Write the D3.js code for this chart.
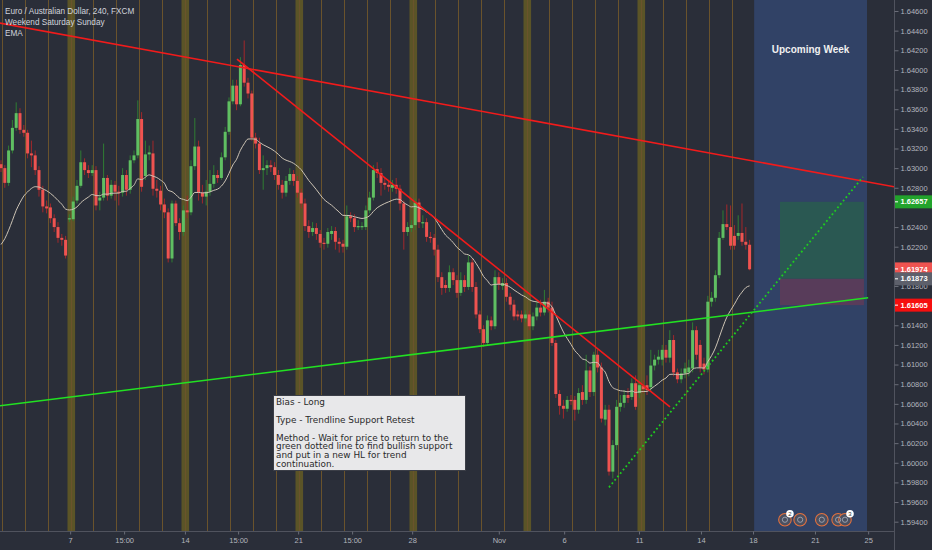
<!DOCTYPE html>
<html><head><meta charset="utf-8">
<script src="https://cdn.jsdelivr.net/npm/d3@7"></script>
<style>body{margin:0;background:#2a2e39;overflow:hidden}svg{display:block}</style>
</head><body><svg id="c" width="932" height="550"></svg>
<script>
// ---- data (EUR/AUD 240, FXCM) ----
const opens = [
1.6304,1.6300,1.6285,1.6318,1.6341,1.6356,1.6339,1.6336,1.6315,1.6313,
1.6298,1.6278,1.6261,1.6260,1.6249,1.6240,1.6229,1.6227,1.6248,1.6248,
1.6267,1.6282,1.6306,1.6298,1.6295,1.6298,1.6267,1.6270,1.6290,1.6272,
1.6283,1.6276,1.6275,1.6293,1.6278,1.6308,1.6313,1.6350,1.6292,1.6314,
1.6315,1.6279,1.6277,1.6263,1.6255,1.6208,1.6264,1.6244,1.6235,1.6257,
1.6255,1.6302,1.6322,1.6275,1.6271,1.6276,1.6284,1.6293,1.6290,1.6311,
1.6337,1.6368,1.6384,1.6365,1.6405,1.6387,1.6376,1.6331,1.6325,1.6298,
1.6300,1.6303,1.6301,1.6293,1.6283,1.6275,1.6287,1.6294,1.6287,1.6275,
1.6264,1.6241,1.6235,1.6239,1.6233,1.6224,1.6223,1.6233,1.6236,1.6225,
1.6223,1.6220,1.6251,1.6249,1.6240,1.6240,1.6240,1.6257,1.6270,1.6299,
1.6295,1.6285,1.6283,1.6280,1.6283,1.6279,1.6264,1.6235,1.6239,1.6242,
1.6265,1.6245,1.6245,1.6230,1.6229,1.6217,1.6189,1.6181,1.6178,1.6194,
1.6186,1.6173,1.6186,1.6179,1.6204,1.6179,1.6151,1.6136,1.6122,1.6145,
1.6139,1.6189,1.6180,1.6183,1.6169,1.6161,1.6151,1.6151,1.6147,1.6151,
1.6139,1.6149,1.6158,1.6153,1.6164,1.6158,1.6122,1.6070,1.6058,1.6055,
1.6064,1.6064,1.6054,1.6072,1.6064,1.6094,1.6072,1.6110,1.6097,1.6044,
1.6054,1.5991,1.6018,1.6057,1.6061,1.6069,1.6067,1.6081,1.6071,1.6078,
1.6079,1.6077,1.6099,1.6105,1.6105,1.6115,1.6107,1.6125,1.6092,1.6085,
1.6091,1.6092,1.6096,1.6135,1.6120,1.6101,1.6095,1.6164,1.6168,1.6191,
1.6229,1.6243,1.6240,1.6231,1.6231,1.6234,1.6225,1.6222];
const closes = [
1.6300,1.6285,1.6318,1.6341,1.6356,1.6339,1.6336,1.6315,1.6313,1.6298,
1.6278,1.6261,1.6259,1.6249,1.6240,1.6229,1.6227,1.6211,1.6249,1.6266,
1.6282,1.6306,1.6298,1.6295,1.6298,1.6262,1.6270,1.6290,1.6272,1.6283,
1.6276,1.6275,1.6293,1.6278,1.6308,1.6313,1.6350,1.6281,1.6314,1.6316,
1.6279,1.6277,1.6263,1.6255,1.6208,1.6264,1.6244,1.6235,1.6257,1.6255,
1.6302,1.6322,1.6275,1.6271,1.6276,1.6284,1.6293,1.6290,1.6311,1.6337,
1.6368,1.6384,1.6365,1.6405,1.6387,1.6376,1.6331,1.6325,1.6298,1.6300,
1.6303,1.6301,1.6293,1.6283,1.6275,1.6287,1.6294,1.6287,1.6275,1.6264,
1.6241,1.6235,1.6239,1.6233,1.6224,1.6223,1.6235,1.6236,1.6225,1.6223,
1.6220,1.6251,1.6249,1.6240,1.6241,1.6241,1.6257,1.6270,1.6298,1.6295,
1.6285,1.6283,1.6281,1.6283,1.6279,1.6264,1.6235,1.6240,1.6242,1.6265,
1.6245,1.6245,1.6230,1.6229,1.6217,1.6189,1.6178,1.6178,1.6194,1.6186,
1.6173,1.6186,1.6179,1.6204,1.6179,1.6151,1.6136,1.6122,1.6145,1.6139,
1.6189,1.6182,1.6183,1.6169,1.6161,1.6149,1.6149,1.6147,1.6151,1.6139,
1.6149,1.6158,1.6153,1.6164,1.6158,1.6122,1.6070,1.6058,1.6055,1.6064,
1.6063,1.6054,1.6071,1.6064,1.6094,1.6072,1.6110,1.6097,1.6045,1.6054,
1.5991,1.6018,1.6057,1.6061,1.6069,1.6066,1.6081,1.6057,1.6079,1.6075,
1.6074,1.6099,1.6105,1.6108,1.6115,1.6107,1.6125,1.6092,1.6085,1.6091,
1.6096,1.6097,1.6135,1.6110,1.6097,1.6095,1.6164,1.6168,1.6191,1.6229,
1.6243,1.6240,1.6221,1.6221,1.6234,1.6225,1.6222,1.6197];
const highs = [
1.6308,1.6303,1.6323,1.6349,1.6367,1.6361,1.6344,1.6339,1.6328,1.6318,
1.6302,1.6282,1.6267,1.6264,1.6253,1.6245,1.6233,1.6231,1.6253,1.6271,
1.6288,1.6318,1.6310,1.6303,1.6303,1.6302,1.6276,1.6325,1.6293,1.6288,
1.6287,1.6282,1.6300,1.6298,1.6313,1.6318,1.6369,1.6357,1.6328,1.6323,
1.6328,1.6288,1.6282,1.6269,1.6259,1.6267,1.6267,1.6249,1.6262,1.6272,
1.6308,1.6351,1.6328,1.6283,1.6288,1.6298,1.6303,1.6298,1.6316,1.6342,
1.6372,1.6390,1.6390,1.6413,1.6430,1.6392,1.6379,1.6336,1.6331,1.6313,
1.6308,1.6308,1.6306,1.6298,1.6288,1.6292,1.6300,1.6298,1.6292,1.6279,
1.6269,1.6247,1.6245,1.6244,1.6237,1.6229,1.6239,1.6241,1.6240,1.6229,
1.6227,1.6262,1.6255,1.6253,1.6247,1.6245,1.6262,1.6276,1.6303,1.6306,
1.6300,1.6290,1.6288,1.6288,1.6290,1.6283,1.6267,1.6245,1.6247,1.6269,
1.6269,1.6252,1.6249,1.6235,1.6233,1.6222,1.6194,1.6186,1.6201,1.6198,
1.6191,1.6194,1.6191,1.6211,1.6208,1.6184,1.6155,1.6140,1.6150,1.6149,
1.6196,1.6194,1.6188,1.6188,1.6173,1.6166,1.6155,1.6155,1.6155,1.6155,
1.6153,1.6164,1.6166,1.6176,1.6168,1.6164,1.6125,1.6074,1.6064,1.6068,
1.6069,1.6068,1.6076,1.6079,1.6110,1.6098,1.6113,1.6115,1.6102,1.6059,
1.6059,1.6023,1.6064,1.6069,1.6074,1.6076,1.6086,1.6089,1.6084,1.6084,
1.6089,1.6115,1.6110,1.6115,1.6120,1.6120,1.6135,1.6130,1.6096,1.6096,
1.6102,1.6105,1.6143,1.6139,1.6125,1.6107,1.6170,1.6174,1.6196,1.6235,
1.6257,1.6263,1.6262,1.6242,1.6252,1.6264,1.6240,1.6227];
const lows = [
1.6296,1.6280,1.6282,1.6315,1.6338,1.6335,1.6332,1.6310,1.6301,1.6293,
1.6271,1.6255,1.6254,1.6244,1.6235,1.6224,1.6221,1.6208,1.6245,1.6246,
1.6264,1.6280,1.6293,1.6290,1.6292,1.6257,1.6257,1.6267,1.6267,1.6269,
1.6267,1.6262,1.6271,1.6272,1.6274,1.6305,1.6310,1.6276,1.6288,1.6308,
1.6272,1.6270,1.6257,1.6249,1.6204,1.6204,1.6241,1.6227,1.6231,1.6249,
1.6252,1.6298,1.6267,1.6264,1.6262,1.6272,1.6280,1.6285,1.6288,1.6308,
1.6334,1.6365,1.6359,1.6363,1.6383,1.6371,1.6328,1.6320,1.6294,1.6278,
1.6293,1.6296,1.6288,1.6278,1.6269,1.6271,1.6283,1.6282,1.6270,1.6259,
1.6236,1.6229,1.6231,1.6227,1.6219,1.6217,1.6219,1.6227,1.6217,1.6214,
1.6214,1.6217,1.6245,1.6235,1.6237,1.6237,1.6237,1.6254,1.6267,1.6290,
1.6272,1.6278,1.6276,1.6276,1.6274,1.6257,1.6217,1.6231,1.6235,1.6237,
1.6239,1.6239,1.6225,1.6224,1.6211,1.6184,1.6171,1.6173,1.6174,1.6181,
1.6168,1.6170,1.6174,1.6176,1.6174,1.6147,1.6132,1.6118,1.6119,1.6135,
1.6136,1.6176,1.6176,1.6164,1.6155,1.6145,1.6145,1.6143,1.6143,1.6135,
1.6135,1.6145,1.6149,1.6150,1.6153,1.6119,1.6066,1.6049,1.6045,1.6052,
1.6059,1.6043,1.6050,1.6059,1.6060,1.6067,1.6068,1.6092,1.6041,1.6038,
1.5987,1.5984,1.6013,1.6052,1.6056,1.6061,1.6064,1.6054,1.6066,1.6071,
1.6069,1.6072,1.6094,1.6100,1.6099,1.6102,1.6102,1.6088,1.6081,1.6081,
1.6086,1.6088,1.6092,1.6105,1.6092,1.6090,1.6092,1.6159,1.6164,1.6188,
1.6227,1.6237,1.6217,1.6217,1.6227,1.6221,1.6217,1.6196];

const emaLength = 20;
const emaSeed = 1.6214;

const sundayBars = [18, 48, 78, 108, 138, 168];
const timeTickPos = [18.2, 32.4, 48.4, 62.4, 78.2, 92.4, 108.2, 131, 148.2, 167.9, 184.2, 197.9, 214.2, 228.2];
const timeTickLabels = ["7", "15:00", "14", "15:00", "21", "15:00", "28", "Nov", "6", "11", "14", "18", "21", "25"];
// tick labels hidden behind the price tags (1.626, 1.620) are not drawn
const priceTicks = [1.594,1.596,1.598,1.600,1.602,1.604,1.606,1.608,1.610,1.612,1.614,1.616,1.618,
  1.622,1.624,1.628,1.630,1.632,1.634,1.636,1.638,1.640,1.642,1.644,1.646];

const resistanceLine = [[64.2, 1.6402], [235, 1.6281]];
const downTrendLine = [[62.1, 1.6411], [176.05, 1.6057]];
const supportLine = [[-0.263, 1.6058], [228.2, 1.6168]];
const dottedLine = [[160, 1.5975], [226.8, 1.6291]];

const upcomingWeek = [198.2, 227.9];
const position = {from: 205, to: 227.1, target: 1.62657, entry: 1.61873, stop: 1.61605};
const lastPrice = 1.61974;
const eventBars = [206.3, 210.3, 216, 220.3, 222.1];
const eventBadges = [[206.3, "2"], [222.1, "3"]];
const eventPrice = 1.5942;

const titleLines = ["Euro / Australian Dollar, 240, FXCM", "Weekend Saturday Sunday", "EMA"];
const noteLines = [["Bias - Long"], ["Type - Trendline Support Retest"],
  ["Method - Wait for price to return to the", "green dotted line to find bullish support", "and put in a new HL for trend", "continuation."]];

// ---- drawing ----
const W = 932, H = 550, plotR = 894, plotB = 531.5;
const svg = d3.select("#c");
const x = d3.scaleLinear().domain([-0.263, 235]).range([0, plotR]);
const y = d3.scaleLinear().domain([1.594, 1.646]).range([521.7, 11]);

svg.append("rect").attr("width", W).attr("height", H).attr("fill", "#2a2e39");
svg.append("defs").append("clipPath").attr("id", "plot")
  .append("rect").attr("x", 0).attr("y", 0).attr("width", plotR).attr("height", plotB);
const g = svg.append("g").attr("clip-path", "url(#plot)");

// weekend bands
g.selectAll(".wk").data(sundayBars).join("rect")
  .attr("x", d => x(d - 0.5)).attr("width", x(2) - x(0)).attr("y", 0).attr("height", plotB)
  .attr("fill", "#5b5427");
// day separators
const dayLines = d3.range(0.3, closes.length, 6);
g.selectAll(".dl").data(dayLines).join("line")
  .attr("x1", d => Math.round(x(d)) + 0.5).attr("x2", d => Math.round(x(d)) + 0.5)
  .attr("y1", 0).attr("y2", plotB).attr("stroke", "#6a532c").attr("stroke-width", 1);

// upcoming week box
g.append("rect").attr("x", x(upcomingWeek[0])).attr("width", x(upcomingWeek[1]) - x(upcomingWeek[0]))
  .attr("y", 0).attr("height", plotB).attr("fill", "#314266");
g.append("text").attr("x", (x(upcomingWeek[0]) + x(upcomingWeek[1])) / 2).attr("y", 52.5)
  .attr("text-anchor", "middle").attr("font-family", "Liberation Sans, Arial, sans-serif")
  .attr("font-weight", "bold").attr("font-size", 10).attr("fill", "#f0f0f0").text("Upcoming Week");

// position tool
g.append("rect").attr("x", x(position.from)).attr("width", x(position.to) - x(position.from))
  .attr("y", y(position.target)).attr("height", y(position.entry) - y(position.target)).attr("fill", "#2a5852");
g.append("rect").attr("x", x(position.from)).attr("width", x(position.to) - x(position.from))
  .attr("y", y(position.entry)).attr("height", y(position.stop) - y(position.entry)).attr("fill", "#583c5a");

// candles
const bars = closes.map((c, i) => ({i, o: opens[i], h: highs[i], l: lows[i], c}));
const bw = 3;
g.selectAll(".wick").data(bars).join("line")
  .attr("x1", d => x(d.i)).attr("x2", d => x(d.i))
  .attr("y1", d => y(d.h)).attr("y2", d => y(d.l))
  .attr("stroke", d => d.c >= d.o ? "#2f7d33" : "#a3282b").attr("stroke-width", 1);
g.selectAll(".body").data(bars).join("rect")
  .attr("x", d => x(d.i) - bw / 2).attr("width", bw)
  .attr("y", d => y(Math.max(d.o, d.c)))
  .attr("height", d => Math.max(1.2, Math.abs(y(d.o) - y(d.c))))
  .attr("fill", d => d.c >= d.o ? "#5fbf62" : "#ef5350");

// EMA
const ema = [];
closes.forEach((c, i) => { const a = 2 / (emaLength + 1); ema.push(i === 0 ? emaSeed + a * (c - emaSeed) : ema[i - 1] + a * (c - ema[i - 1])); });
g.append("path").datum(ema).attr("fill", "none").attr("stroke", "#cdc4b5").attr("stroke-width", 1)
  .attr("d", d3.line().x((d, i) => x(i)).y(d => y(d)).curve(d3.curveMonotoneX));

// trend lines
function extend(p, x0, x1) {
  const s = (p[1][1] - p[0][1]) / (p[1][0] - p[0][0]);
  return [[x0, p[0][1] + s * (x0 - p[0][0])], [x1, p[0][1] + s * (x1 - p[0][0])]];
}
const ln = d3.line().x(d => x(d[0])).y(d => y(d[1]));
g.append("path").attr("d", ln(extend(resistanceLine, -1, 236))).attr("stroke", "#f21b1b").attr("stroke-width", 1.6).attr("fill", "none");
g.append("path").attr("d", ln(downTrendLine)).attr("stroke", "#f21b1b").attr("stroke-width", 1.6).attr("fill", "none");
g.append("path").attr("d", ln(supportLine)).attr("stroke", "#22e122").attr("stroke-width", 1.6).attr("fill", "none");
g.append("path").attr("d", ln(dottedLine)).attr("stroke", "#1fcc1f").attr("stroke-width", 1.8)
  .attr("stroke-dasharray", "1.8,2.6").attr("fill", "none");

// events
const ev = g.append("g");
ev.selectAll("circle").data(eventBars).join("circle")
  .attr("cx", d => x(d)).attr("cy", y(eventPrice)).attr("r", 6.3)
  .attr("fill", "#4b5061").attr("stroke", "#e5713d").attr("stroke-width", 1.1);
ev.selectAll(".in").data(eventBars).join("circle")
  .attr("cx", d => x(d)).attr("cy", y(eventPrice)).attr("r", 2.6)
  .attr("fill", "none").attr("stroke", "#9aa0ad").attr("stroke-width", 1);
const bd = ev.selectAll(".bd").data(eventBadges).join("g")
  .attr("transform", d => `translate(${x(d[0]) + 5},${y(eventPrice) - 6})`);
bd.append("circle").attr("r", 3.8).attr("fill", "#ffffff");
bd.append("text").attr("text-anchor", "middle").attr("dy", "0.35em").attr("font-size", 6)
  .attr("font-family", "Liberation Sans, Arial, sans-serif").attr("fill", "#333").text(d => d[1]);

// note box
const nb = svg.append("g");
nb.append("rect").attr("x", 273.5).attr("y", 395.5).attr("width", 192).attr("height", 75)
  .attr("fill", "#e8e8ea").attr("stroke", "#3b3e47").attr("stroke-width", 1);
const baselines = [[405], [422.5], [440.5, 449.3, 458.1, 466.9]];
noteLines.forEach((para, pi) => para.forEach((t, li) => {
  nb.append("text").attr("x", 276).attr("y", baselines[pi][li]).attr("font-size", 8.9)
    .attr("font-family", "DejaVu Sans, Verdana, sans-serif").attr("fill", "#2a2a2a").text(t);
}));

// title
titleLines.forEach((t, i) => svg.append("text").attr("x", 5).attr("y", 14 + i * 11)
  .attr("font-size", 8.2).attr("font-family", "Liberation Sans, Arial, sans-serif")
  .attr("fill", "#d1d4dc").text(t));

// axes
svg.append("line").attr("x1", 0).attr("x2", plotR).attr("y1", plotB).attr("y2", plotB).attr("stroke", "#50535e");
svg.append("line").attr("x1", plotR + 0.5).attr("x2", plotR + 0.5).attr("y1", 0).attr("y2", H).attr("stroke", "#50535e");

const yAxis = d3.axisRight(y).tickValues(priceTicks).tickSize(4).tickPadding(2).tickFormat(d3.format(".5f"));
const ya = svg.append("g").attr("transform", `translate(${plotR + 0.5},0)`).call(yAxis);
ya.select(".domain").remove();
ya.selectAll("line").attr("stroke", "#6a6d78");
ya.selectAll("text").attr("fill", "#b2b5be").attr("font-size", 7.5).attr("font-family", "Liberation Sans, Arial, sans-serif");

const xAxis = d3.axisBottom(x).tickValues(timeTickPos).tickSize(3).tickPadding(3)
  .tickFormat((d, i) => timeTickLabels[i]);
const xa = svg.append("g").attr("transform", `translate(0,${plotB})`).call(xAxis);
xa.select(".domain").remove();
xa.selectAll("line").attr("stroke", "#6a6d78");
xa.selectAll("text").attr("fill", "#b2b5be").attr("font-size", 7.5).attr("font-family", "Liberation Sans, Arial, sans-serif");

// price labels
const labels = [
  {p: position.target, bg: "#22a32c"},
  {p: lastPrice, bg: "#ef5350"},
  {p: position.entry, bg: "#5d606b"},
  {p: position.stop, bg: "#f50f0f"}];
const lb = svg.selectAll(".pl").data(labels).join("g").attr("transform", d => `translate(${plotR + 1},${y(d.p)})`);
lb.append("rect").attr("x", 0).attr("y", -6.5).attr("width", W - plotR).attr("height", 13).attr("fill", d => d.bg);
lb.append("line").attr("x1", 0).attr("x2", 3).attr("stroke", "#ffffff").attr("stroke-width", 1);
lb.append("text").attr("x", 5.5).attr("dy", "0.35em").attr("font-size", 7.5).attr("font-weight", "bold")
  .attr("font-family", "Liberation Sans, Arial, sans-serif").attr("fill", "#ffffff").text(d => d.p.toFixed(5));
</script></body></html>
